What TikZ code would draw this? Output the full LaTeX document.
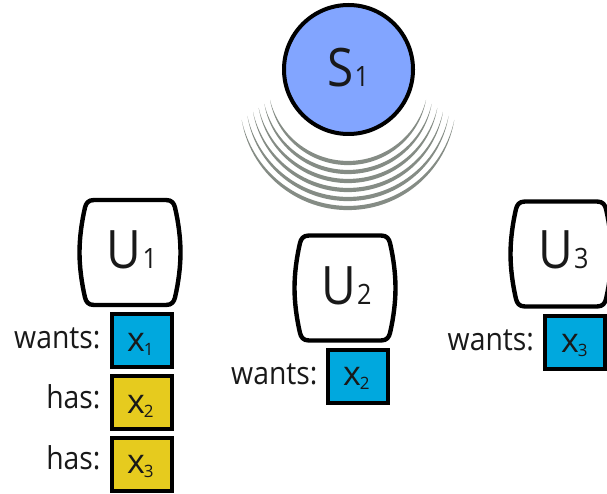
\documentclass[tikz,border=0pt]{standalone}
\usepackage{fontspec}
\setmainfont[FakeStretch=0.9]{Open Sans}
\newfontfamily\xfont{Open Sans}
\definecolor{srvblue}{HTML}{82A5FF}
\definecolor{wantblue}{HTML}{00A8DE}
\definecolor{hasyellow}{HTML}{E6CB1E}
\definecolor{wavegray}{HTML}{858C85}
\newcommand{\bigsub}[2]{{\fontsize{53}{53}\selectfont #1\kern1.5pt\fontsize{28}{28}\selectfont #2}}
\newcommand{\smallsub}[2]{{\xfont\fontsize{34}{34}\selectfont #1\kern-1pt\raisebox{-4pt}{\fontsize{17}{17}\selectfont #2}}}
\newcommand{\userbox}[3]{%
  \draw[userline,shift={(#1,#2)}] (-36,52.5) -- (36,52.5)
    .. controls (42,52.5) and (44,49) .. (45,45)
    .. controls (48.5,30) and (50.5,14) .. (50.5,0)
    .. controls (50.5,-14) and (48.5,-30) .. (45,-45)
    .. controls (44,-49) and (42,-52.5) .. (36,-52.5)
    -- (-36,-52.5)
    .. controls (-42,-52.5) and (-44,-49) .. (-45,-45)
    .. controls (-48.5,-30) and (-50.5,-14) .. (-50.5,0)
    .. controls (-50.5,14) and (-48.5,30) .. (-45,45)
    .. controls (-44,49) and (-42,52.5) .. (-36,52.5) -- cycle;
  \node[plain] (#3) at (#1,#2) {};}
\tikzset{
  x=1pt,y=1pt,
  userline/.style={draw=black,line width=4.4pt,fill=white,line join=round},
  plain/.style={inner sep=0pt,outer sep=0pt},
  item/.style={draw=black,line width=4pt,minimum width=60pt,minimum height=53pt,inner sep=0pt,outer sep=0pt},
  wantbox/.style={item,fill=wantblue},
  hasbox/.style={item,fill=hasyellow},
  glyph/.style={plain,anchor=base west,text=black!90},
  lab/.style={plain,anchor=base east,font=\fontsize{31.5}{31.5}\selectfont,text=black!90}
}
\begin{document}
\begin{tikzpicture}
\useasboundingbox (0,0) rectangle (607,493);
\clip (0,0) rectangle (607,493);
% waves
\foreach \i in {0,...,5}{
  \pgfmathsetmacro{\h}{78+5.66*\i}
  \pgfmathsetmacro{\ly}{100+4*\i}
  \pgfmathsetmacro{\bt}{163+9*\i}
  \pgfmathsetmacro{\so}{\bt+2.1-\ly}
  \pgfmathsetmacro{\si}{\bt-2.1-\ly}
  \pgfmathsetmacro{\Ro}{((\h/10)^2+(\so/10)^2)/(2*\so)*100}
  \pgfmathsetmacro{\Ri}{((\h/10)^2+(\si/10)^2)/(2*\si)*100}
  \pgfmathsetmacro{\ao}{asin(\h/\Ro)}
  \pgfmathsetmacro{\ai}{asin(\h/\Ri)}
  \fill[wavegray] (348-\h,493-\ly) arc[start angle=270-\ao,end angle=270+\ao,radius=\Ro pt]
     arc[start angle=270+\ai,end angle=270-\ai,radius=\Ri pt] -- cycle;
}
% server
\node[circle,draw=black,fill=srvblue,line width=4pt,minimum size=129pt,inner sep=0pt,outer sep=0pt] (s1) at (348.5,423.5) {};
\node[glyph] (s1t) at (327,406) {\bigsub{S}{1}};
% users
\userbox{130}{240.5}{u1}
\node[glyph] (u1t) at (106.5,224) {\bigsub{U}{1}};
\userbox{345}{205}{u2}
\node[glyph] (u2t) at (321,189) {\bigsub{U}{2}};
\userbox{561}{239}{u3}
\node[glyph] (u3t) at (538,224) {\bigsub{U}{3}};
% items
\node[wantbox] (x1) at (142,152.5) {};
\node[hasbox]  (x2) at (142,91) {};
\node[hasbox]  (x3) at (142,28.5) {};
\node[wantbox] (x2b) at (358,117) {};
\node[wantbox] (x3b) at (575,151) {};
\node[glyph] (x1t) at (127,142) {\smallsub{x}{1}};
\node[glyph] (x2t) at (127,80) {\smallsub{x}{2}};
\node[glyph] (x3t) at (127,20) {\smallsub{x}{3}};
\node[glyph] (x2bt) at (343,108) {\smallsub{x}{2}};
\node[glyph] (x3bt) at (561,141) {\smallsub{x}{3}};
% labels
\node[lab] (l1) at (100.5,145) {wants:};
\node[lab] (l2) at (100.5,85) {has:};
\node[lab] (l3) at (100.5,24) {has:};
\node[lab] (l4) at (317.5,109) {wants:};
\node[lab] (l5) at (534,143) {wants:};
\end{tikzpicture}
\end{document}
